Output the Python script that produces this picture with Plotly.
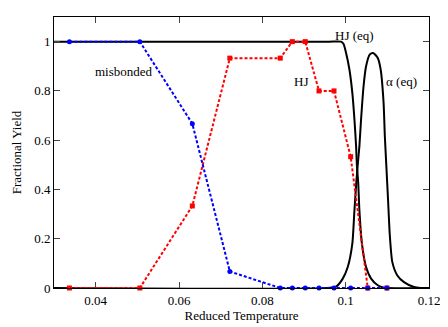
import plotly.graph_objects as go

# Simulation points (reduced temperature) and fractional yields
temp = [0.0337, 0.0506, 0.0632, 0.0722, 0.0843, 0.0872, 0.0903, 0.0936, 0.0972, 0.1012, 0.1053, 0.1099]
misbonded = [1, 1, 0.667, 0.067, 0, 0, 0, 0, 0, 0, 0, 0]
hj = [0, 0, 0.333, 0.933, 0.933, 1, 1, 0.8, 0.8, 0.533, 0, 0]

# Equilibrium curves
hj_eq_t = [0.03, 0.0960, 0.0989, 0.0995, 0.1001, 0.1009, 0.1016, 0.1021, 0.1025, 0.1027,
           0.1030, 0.1033, 0.1039, 0.1049, 0.1061, 0.1077, 0.1088, 0.1100, 0.12]
hj_eq = [1, 1, 1.0, 0.99, 0.954, 0.887, 0.792, 0.685, 0.577, 0.496,
         0.43, 0.314, 0.18, 0.085, 0.038, 0.011, 0.003, 0, 0]

alpha_eq_t = [0.03, 0.0955, 0.0978, 0.0993, 0.1005, 0.1016, 0.1021, 0.1026, 0.1030, 0.1033, 0.1037,
              0.1043, 0.1049, 0.1058, 0.1066, 0.1077, 0.1084, 0.1091, 0.1094, 0.1098, 0.1102,
              0.1106, 0.1112, 0.1124, 0.1140, 0.1164, 0.1179, 0.12]
alpha_eq = [0, 0, 0.007, 0.038, 0.085, 0.18, 0.314, 0.44, 0.52, 0.577, 0.685,
            0.82, 0.90, 0.948, 0.954, 0.934, 0.887, 0.752, 0.617, 0.483, 0.348,
            0.213, 0.105, 0.051, 0.024, 0.004, 0, 0]

x_ticks = [0.04, 0.06, 0.08, 0.1, 0.12]
x_labels = ["0.04", "0.06", "0.08", "0.1", "0.12"]
y_ticks = [0, 0.2, 0.4, 0.6, 0.8, 1]
y_labels = ["0", "0.2", "0.4", "0.6", "0.8", "1"]

font = "Liberation Serif"

fig = go.Figure()
fig.add_trace(go.Scatter(x=hj_eq_t, y=hj_eq, mode="lines", line=dict(color="black", width=2, shape="spline", smoothing=0.6)))
fig.add_trace(go.Scatter(x=alpha_eq_t, y=alpha_eq, mode="lines", line=dict(color="black", width=2, shape="spline", smoothing=0.6)))
fig.add_trace(go.Scatter(x=temp, y=hj, mode="lines+markers", cliponaxis=False,
                         line=dict(color="#ff0000", width=2, dash="3px,2px"),
                         marker=dict(symbol="square", size=5, color="#ff0000")))
fig.add_trace(go.Scatter(x=temp, y=misbonded, mode="lines+markers", cliponaxis=False,
                         line=dict(color="#0000ff", width=2, dash="3px,2px"),
                         marker=dict(symbol="circle", size=5, color="#0000ff")))

labels = [("misbonded", 0.0469, 0.877), ("HJ", 0.0892, 0.84), ("HJ (eq)", 0.1021, 1.026), ("α (eq)", 0.1135, 0.84)]
for text, x, y in labels:
    fig.add_annotation(x=x, y=y, text=text, showarrow=False, font=dict(size=13, color="black", family=font))

# the page body adds an 8px margin, so the figure is 8px smaller and margins shifted
fig.update_xaxes(range=[0.03, 0.12], tickvals=x_ticks, ticktext=x_labels,
                 ticks="inside", ticklen=6, mirror="ticks", showline=True, linecolor="black", linewidth=1,
                 showgrid=False, zeroline=False, tickfont=dict(size=13),
                 title=dict(text="Reduced Temperature", standoff=2, font=dict(size=13)))
fig.update_yaxes(range=[0, 1.1], tickvals=y_ticks, ticktext=y_labels,
                 ticks="inside", ticklen=6, mirror="ticks", showline=True, linecolor="black", linewidth=1,
                 showgrid=False, zeroline=False, tickfont=dict(size=13),
                 title=dict(text="Fractional Yield", standoff=9, font=dict(size=13)))
fig.update_layout(width=440, height=319, margin=dict(l=45, r=16, t=8, b=39),
                  plot_bgcolor="white", paper_bgcolor="white", showlegend=False,
                  font=dict(family=font, size=13, color="black"))

fig.write_html("out.html")
